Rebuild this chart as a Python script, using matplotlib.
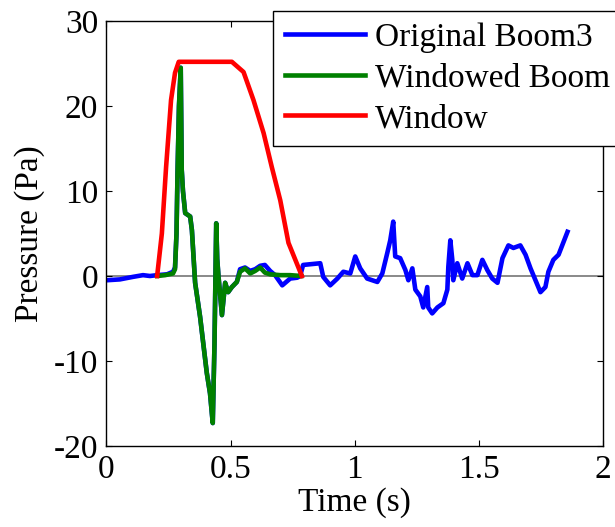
import matplotlib
matplotlib.use("Agg")
import matplotlib.pyplot as plt

plt.rcParams['font.family'] = ['Liberation Serif', 'DejaVu Serif']
plt.rcParams['axes.unicode_minus'] = False

# Original Boom3 (time s, pressure Pa)
blue_t = [0.000, 0.054, 0.107, 0.147, 0.175, 0.204, 0.244, 0.268, 0.276, 0.282, 0.286,
          0.292, 0.299, 0.303, 0.308, 0.317, 0.337, 0.344, 0.357, 0.377, 0.404, 0.417,
          0.428, 0.435, 0.442, 0.446, 0.451, 0.465, 0.478, 0.490, 0.505, 0.525, 0.538,
          0.558, 0.579, 0.599, 0.619, 0.638, 0.659, 0.679, 0.708, 0.740, 0.768, 0.780,
          0.792, 0.861, 0.873, 0.901, 0.930, 0.954, 0.982, 1.002, 1.022, 1.050, 1.091,
          1.111, 1.131, 1.143, 1.155, 1.163, 1.183, 1.204, 1.216, 1.232, 1.244, 1.264,
          1.276, 1.292, 1.296, 1.312, 1.333, 1.357, 1.373, 1.377, 1.385, 1.393, 1.397,
          1.413, 1.433, 1.454, 1.474, 1.494, 1.514, 1.534, 1.554, 1.575, 1.595, 1.619,
          1.639, 1.667, 1.688, 1.708, 1.728, 1.748, 1.768, 1.780, 1.800, 1.821, 1.841,
          1.857]
blue_p = [-0.5, -0.4, -0.1, 0.1, 0.0, 0.1, 0.2, 0.5, 1.0, 5.0, 12.0,
          20.0, 24.5, 12.5, 10.0, 7.4, 7.0, 5.4, -0.8, -4.8, -11.4, -13.8,
          -17.3, -8.0, 6.2, 2.0, 0.0, -4.6, -0.8, -1.9, -1.3, -0.7, 0.8,
          1.0, 0.6, 0.8, 1.2, 1.3, 0.6, 0.1, -1.1, -0.3, -0.2, 0.0,
          1.3, 1.5, -0.1, -1.1, -0.3, 0.5, 0.3, 2.3, 0.9, -0.3, -0.7,
          0.3, 2.7, 4.2, 6.4, 2.3, 2.1, 0.7, -0.5, 0.9, -1.6, -2.4,
          -3.7, -1.3, -3.7, -4.4, -3.7, -3.2, -1.6, 1.1, 4.2, 1.9, -0.5,
          1.5, -0.3, 1.5, 0.1, 0.1, 1.9, 0.7, -0.3, -0.8, 2.1, 3.6,
          3.3, 3.6, 2.5, 0.9, -0.5, -1.9, -1.3, 0.5, 1.9, 2.5, 4.0,
          5.2]

# Windowed Boom
green_t = [0.204, 0.236, 0.268, 0.276, 0.282, 0.286, 0.292, 0.299, 0.303, 0.308, 0.317,
           0.337, 0.344, 0.357, 0.377, 0.404, 0.417, 0.428, 0.435, 0.442, 0.446, 0.451,
           0.465, 0.478, 0.490, 0.505, 0.525, 0.538, 0.558, 0.579, 0.599, 0.619, 0.638,
           0.659, 0.700, 0.740, 0.785]
green_p = [0.0, 0.1, 0.3, 0.8, 5.0, 12.0, 20.0, 24.5, 12.5, 10.0, 7.4,
           7.0, 5.4, -0.8, -4.8, -11.4, -13.8, -17.3, -8.0, 6.2, 2.0, 0.0,
           -4.6, -0.8, -1.9, -1.3, -0.7, 0.5, 0.9, 0.3, 0.6, 1.0, 0.4,
           0.2, 0.1, 0.1, 0.0]

# Window
red_t = [0.204, 0.223, 0.240, 0.260, 0.276, 0.291, 0.505, 0.552, 0.592, 0.633, 0.666,
         0.700, 0.733, 0.787]
red_p = [0.0, 5.0, 12.8, 20.7, 23.9, 25.2, 25.2, 24.0, 20.7, 16.8, 12.8,
         8.9, 3.9, 0.0]

labels = ['Original Boom3', 'Windowed Boom', 'Window']
xticks = [0, 0.5, 1, 1.5, 2]
xticklabels = ['0', '0.5', '1', '1.5', '2']
yticks = [-20, -10, 0, 10, 20, 30]

W, H = 615, 527
fig = plt.figure(figsize=(W / 100, H / 100), dpi=100)
ax = fig.add_axes([106.5 / W, 1 - 446 / H, (603 - 106.5) / W, (446 - 21) / H])

ax.axhline(0, color='#808080', lw=1.3, zorder=1)
ax.plot(blue_t, blue_p, color='#0000ff', lw=3.3, label=labels[0], zorder=2)
ax.plot(green_t, green_p, color='#008000', lw=3.3, label=labels[1], zorder=3)
ax.plot(red_t, red_p, color='#ff0000', lw=3.3, label=labels[2], zorder=4)

ax.set_xlim(0, 2)
ax.set_ylim(-20, 30)
ax.set_xticks(xticks)
ax.set_xticklabels(xticklabels)
ax.set_yticks(yticks)
ax.tick_params(direction='in', length=4, width=0.8, labelsize=24, top=True, right=True, pad=6)
for s in ax.spines.values():
    s.set_linewidth(1.0)
    s.set_color('black')

ax.set_xlabel('Time (s)', fontsize=24, labelpad=2)
ax.set_ylabel('Pressure (Pa)', fontsize=24, labelpad=6)

leg = fig.legend(loc='upper left', bbox_to_anchor=(273 / W, 1 - 11 / H),
                 bbox_transform=fig.transFigure, fontsize=24, frameon=True,
                 fancybox=False, shadow=False, framealpha=1, edgecolor='black',
                 handlelength=2.4, handletextpad=0.3, borderpad=0.35,
                 labelspacing=0.3, borderaxespad=0)
leg.get_frame().set_linewidth(1.0)

fig.savefig('out.png', dpi=100)
